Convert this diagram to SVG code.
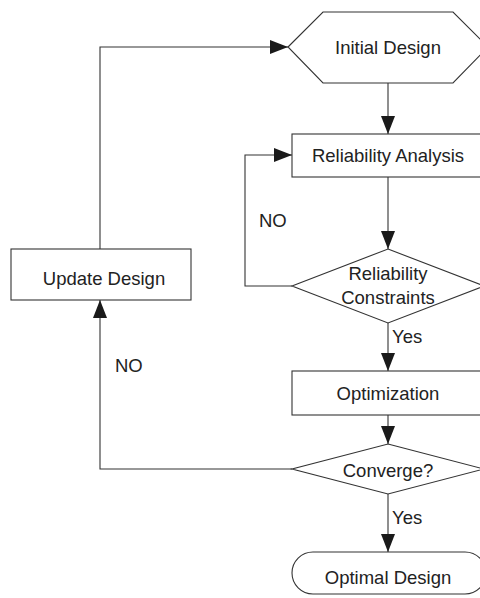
<svg xmlns="http://www.w3.org/2000/svg" width="480" height="598" viewBox="0 0 480 598">
<style>
.s{fill:#fff;stroke:#333;stroke-width:1.1}
.c{fill:none;stroke:#333;stroke-width:1.1}
.t{font-family:"Liberation Sans",Arial,sans-serif;font-size:18.5px;fill:#222}
.m{text-anchor:middle}
</style>
<defs>
<marker id="a" viewBox="0 0 18 14" refX="18" refY="7" markerWidth="18" markerHeight="14" markerUnits="userSpaceOnUse" orient="auto">
<path d="M0,0 L18,7 L0,14 z" fill="#1a1a1a"/>
</marker>
</defs>
<rect width="480" height="598" fill="#fff"/>
<g id="connectors">
<line class="c" x1="388" y1="83" x2="388" y2="134" marker-end="url(#a)"/>
<line class="c" x1="388" y1="177" x2="388" y2="249" marker-end="url(#a)"/>
<polyline class="c" points="292,286 245,286 245,155 292,155" marker-end="url(#a)"/>
<line class="c" x1="388" y1="323" x2="388" y2="371" marker-end="url(#a)"/>
<line class="c" x1="388" y1="415" x2="388" y2="444" marker-end="url(#a)"/>
<polyline class="c" points="292,469 100,469 100,300" marker-end="url(#a)"/>
<polyline class="c" points="100,249 100,47 288,47" marker-end="url(#a)"/>
<line class="c" x1="388" y1="494" x2="388" y2="552" marker-end="url(#a)"/>
<text class="t" x="259" y="227">NO</text>
<text class="t" x="115" y="372">NO</text>
<text class="t" x="392" y="343">Yes</text>
<text class="t" x="392" y="524">Yes</text>
</g>
<g id="initial">
<polygon class="s" points="288,47 323,12 453,12 488,47 453,83 323,83"/>
<text class="t m" x="388" y="53.5">Initial Design</text>
</g>
<g id="analysis">
<rect class="s" x="292" y="134" width="194" height="43"/>
<text class="t m" x="388" y="161.5">Reliability Analysis</text>
</g>
<g id="constraints">
<polygon class="s" points="388,249 484,286 388,323 292,286"/>
<text class="t m" x="388" y="279.5">Reliability</text>
<text class="t m" x="388" y="303.5">Constraints</text>
</g>
<g id="optimization">
<rect class="s" x="292" y="371" width="194" height="44"/>
<text class="t m" x="388" y="399.5">Optimization</text>
</g>
<g id="converge">
<polygon class="s" points="388,444 484,469 388,494 292,469"/>
<text class="t m" x="388" y="476.5">Converge?</text>
</g>
<g id="update">
<rect class="s" x="11" y="249" width="180" height="51"/>
<text class="t m" x="104" y="284.5">Update Design</text>
</g>
<g id="optimal">
<rect class="s" x="292" y="552" width="194" height="42" rx="21" ry="21"/>
<text class="t m" x="388" y="583.5">Optimal Design</text>
</g>
</svg>
